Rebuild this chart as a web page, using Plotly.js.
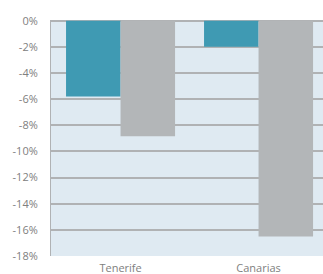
<!DOCTYPE html>
<html><head><meta charset="utf-8">
<script src="https://cdn.plot.ly/plotly-3.0.1.min.js"></script>
<style>html,body{margin:0;padding:0;overflow:hidden;background:#fff}</style>
</head><body><div id="chart" style="width:323px;height:274px"></div>
<script>
const categories = ["Tenerife", "Canarias"];
const seriesA = [-5.8, -2.0];
const seriesB = [-8.85, -16.5];
const yTickVals = [0, -2, -4, -6, -8, -10, -12, -14, -16, -18];
const yTickText = ["0%", "-2%", "-4%", "-6%", "-8%", "-10%", "-12%", "-14%", "-16%", "-18%"];

const traces = [
  {type: "bar", x: categories, y: seriesA, marker: {color: "#3f9ab3"}, hoverinfo: "skip"},
  {type: "bar", x: categories, y: seriesB, marker: {color: "#b3b6b8"}, hoverinfo: "skip"}
];
const layout = {
  width: 323, height: 274,
  margin: {l: 51, r: 0, t: 20, b: 18},
  paper_bgcolor: "#ffffff",
  plot_bgcolor: "#dfeaf2",
  barmode: "group",
  bargap: 0.21,
  bargroupgap: 0,
  showlegend: false,
  font: {family: "Open Sans", size: 11, color: "#808080"},
  xaxis: {range: [-0.504, 1.467], showgrid: false, zeroline: false, showline: false, ticks: "", ticklabelstandoff: 4, tickfont: {size: 11, color: "#808080"}},
  yaxis: {range: [-18.0, 0.05], tickvals: yTickVals, ticktext: yTickText, showgrid: true, gridcolor: "#b0b2b4", gridwidth: 2, zeroline: true, zerolinecolor: "#b0b2b4", zerolinewidth: 2, showline: true, linecolor: "#b0b2b4", linewidth: 0, ticks: "", ticklabelstandoff: 10, tickfont: {size: 11, color: "#808080"}}
};
Plotly.newPlot("chart", traces, layout, {staticPlot: true, displayModeBar: false});
</script></body></html>
